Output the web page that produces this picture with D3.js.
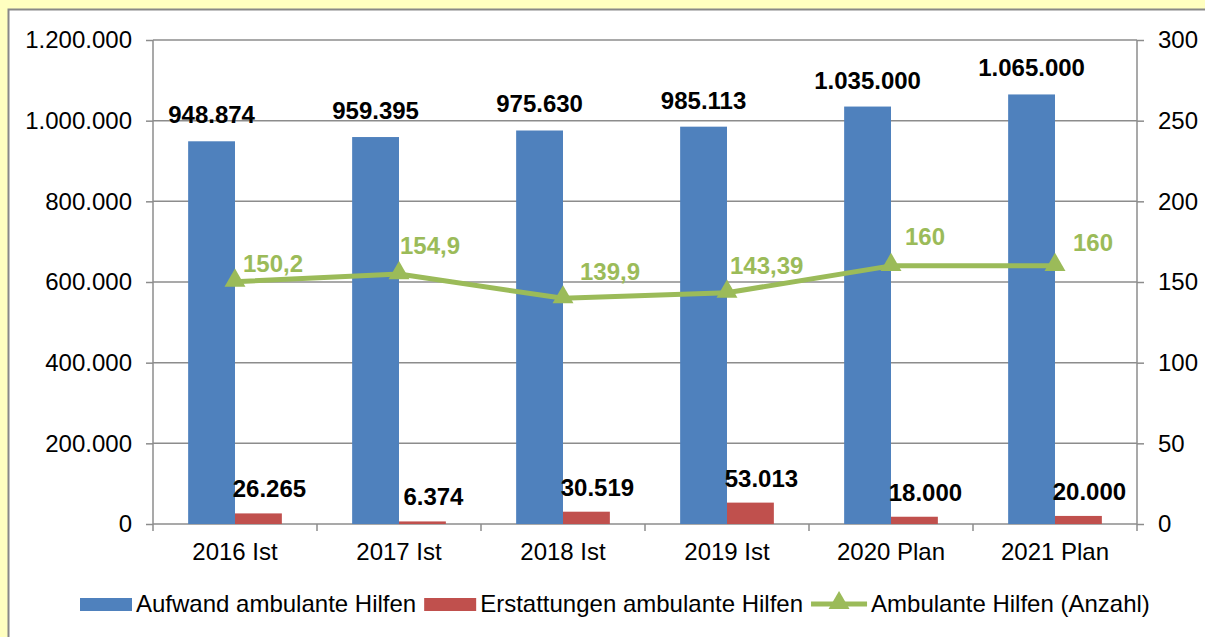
<!DOCTYPE html>
<html>
<head>
<meta charset="utf-8">
<script src="https://cdn.jsdelivr.net/npm/d3@7"></script>
<style>
  body { margin: 0; background: #FFFFC0; }
  svg { display: block; font-family: "Liberation Sans", Arial, sans-serif; }
</style>
</head>
<body>
<div id="chart"></div>
<script>
// Daten
const CATEGORIES = ["2016 Ist", "2017 Ist", "2018 Ist", "2019 Ist", "2020 Plan", "2021 Plan"];
const AUFWAND = [948874, 959395, 975630, 985113, 1035000, 1065000];
const ERSTATTUNGEN = [26265, 6374, 30519, 53013, 18000, 20000];
const ANZAHL = [150.2, 154.9, 139.9, 143.39, 160, 160];
const LEFT_TICKS = [0, 200000, 400000, 600000, 800000, 1000000, 1200000];
const RIGHT_TICKS = [0, 50, 100, 150, 200, 250, 300];
const SERIES_NAMES = ["Aufwand ambulante Hilfen", "Erstattungen ambulante Hilfen", "Ambulante Hilfen (Anzahl)"];

// layout
const WIDTH = 1205;
const HEIGHT = 637;
const PLOT = { left: 153, right: 1137, top: 40, bottom: 524 };
const COLORS = { blue: "#4F81BD", red: "#C0504D", green: "#9BBB59", grid: "#8C8C8C" };
const FONT = 24;
// label nudges for the green line labels (dx, dy from point)
const LINE_LABEL_NUDGE = [[8, -10], [1, -20], [17, -18], [3, -19], [14, -21], [18, -15]];

const deFormat = d3.formatLocale({ decimal: ",", thousands: ".", grouping: [3], currency: ["", "€"] }).format(",d");
const deDecimal = v => String(v).replace(".", ",");

const svg = d3.select("#chart").append("svg")
  .attr("width", WIDTH)
  .attr("height", HEIGHT);

// white chart box with gray border
svg.append("rect")
  .attr("x", 8.5).attr("y", 9.5)
  .attr("width", WIDTH + 20).attr("height", HEIGHT + 20)
  .attr("fill", "#fff")
  .attr("stroke", "#888")
  .attr("stroke-width", 2);

const x = d3.scaleBand().domain(CATEGORIES).range([PLOT.left, PLOT.right]);
const xInner = d3.scaleBand().domain(["a", "e"]).range([0, x.bandwidth()]).paddingInner(0).paddingOuter(0.75);
const yLeft = d3.scaleLinear().domain([0, 1200000]).range([PLOT.bottom, PLOT.top]);
const yRight = d3.scaleLinear().domain([0, 300]).range([PLOT.bottom, PLOT.top]);

// gridlines
svg.append("g").selectAll("line")
  .data(LEFT_TICKS.slice(1))
  .join("line")
  .attr("x1", PLOT.left).attr("x2", PLOT.right)
  .attr("y1", d => yLeft(d)).attr("y2", d => yLeft(d))
  .attr("stroke", COLORS.grid).attr("stroke-width", 1.5);

// left axis
const leftAxis = svg.append("g")
  .attr("transform", `translate(${PLOT.left},0)`)
  .call(d3.axisLeft(yLeft).tickValues(LEFT_TICKS).tickFormat(deFormat).tickSize(7).tickPadding(14));

// right axis
const rightAxis = svg.append("g")
  .attr("transform", `translate(${PLOT.right},0)`)
  .call(d3.axisRight(yRight).tickValues(RIGHT_TICKS).tickSize(7).tickPadding(14));

// bottom axis
const bottomAxis = svg.append("g")
  .attr("transform", `translate(0,${PLOT.bottom})`)
  .call(d3.axisBottom(x).tickSize(0).tickPadding(19));

// category boundary ticks
svg.append("g").selectAll("line")
  .data(d3.range(CATEGORIES.length + 1))
  .join("line")
  .attr("x1", i => PLOT.left + i * x.step())
  .attr("x2", i => PLOT.left + i * x.step())
  .attr("y1", PLOT.bottom).attr("y2", PLOT.bottom + 7)
  .attr("stroke", COLORS.grid).attr("stroke-width", 1.5);

[leftAxis, rightAxis, bottomAxis].forEach(a => {
  a.selectAll(".domain").attr("stroke", COLORS.grid).attr("stroke-width", 1.5);
  a.selectAll(".tick line").attr("stroke", COLORS.grid).attr("stroke-width", 1.5);
  a.selectAll("text").attr("font-size", FONT).attr("font-family", "Liberation Sans, Arial, sans-serif").attr("fill", "#000");
});
leftAxis.select(".domain").attr("d", `M0,${PLOT.bottom}V${PLOT.top}`);
rightAxis.select(".domain").attr("d", `M0,${PLOT.bottom}V${PLOT.top}`);
bottomAxis.select(".domain").attr("d", `M${PLOT.left},0H${PLOT.right}`);

// bars
const bars = svg.append("g");
bars.selectAll(".aufwand")
  .data(AUFWAND)
  .join("rect")
  .attr("class", "aufwand")
  .attr("x", (d, i) => x(CATEGORIES[i]) + xInner("a"))
  .attr("y", d => yLeft(d))
  .attr("width", xInner.bandwidth())
  .attr("height", d => PLOT.bottom - yLeft(d))
  .attr("fill", COLORS.blue);

bars.selectAll(".erst")
  .data(ERSTATTUNGEN)
  .join("rect")
  .attr("class", "erst")
  .attr("x", (d, i) => x(CATEGORIES[i]) + xInner("e"))
  .attr("y", d => yLeft(d))
  .attr("width", xInner.bandwidth())
  .attr("height", d => PLOT.bottom - yLeft(d))
  .attr("fill", COLORS.red);

// bar labels
svg.append("g").selectAll("text")
  .data(AUFWAND)
  .join("text")
  .attr("x", (d, i) => x(CATEGORIES[i]) + xInner("a") + xInner.bandwidth() / 2)
  .attr("y", d => yLeft(d) - 18)
  .attr("text-anchor", "middle")
  .attr("font-size", FONT).attr("font-weight", "bold")
  .text(d => deFormat(d));

svg.append("g").selectAll("text")
  .data(ERSTATTUNGEN)
  .join("text")
  .attr("x", (d, i) => x(CATEGORIES[i]) + xInner("e") + xInner.bandwidth() / 2 + 11)
  .attr("y", d => yLeft(d) - 16)
  .attr("text-anchor", "middle")
  .attr("font-size", FONT).attr("font-weight", "bold")
  .text(d => deFormat(d));

// green line
const lineX = (d, i) => x(CATEGORIES[i]) + x.bandwidth() / 2;
const line = d3.line().x(lineX).y(d => yRight(d));
svg.append("path")
  .datum(ANZAHL)
  .attr("d", line)
  .attr("fill", "none")
  .attr("stroke", COLORS.green)
  .attr("stroke-width", 5)
  .attr("stroke-linejoin", "round");

const tri = d3.symbol().type(d3.symbolTriangle).size(190);
svg.append("g").selectAll("path")
  .data(ANZAHL)
  .join("path")
  .attr("d", tri)
  .attr("transform", (d, i) => `translate(${lineX(d, i)},${yRight(d) - 1})`)
  .attr("fill", COLORS.green);

svg.append("g").selectAll("text")
  .data(ANZAHL)
  .join("text")
  .attr("x", (d, i) => lineX(d, i) + LINE_LABEL_NUDGE[i][0])
  .attr("y", (d, i) => yRight(d) + LINE_LABEL_NUDGE[i][1])
  .attr("font-size", FONT).attr("font-weight", "bold")
  .attr("fill", COLORS.green)
  .text(d => deDecimal(d));

// legend
const legend = svg.append("g").attr("transform", "translate(80,604)");
let lx = 0;
SERIES_NAMES.forEach((name, i) => {
  const sw = i < 2 ? 52 : 56;
  if (i < 2) {
    legend.append("rect")
      .attr("x", lx).attr("y", -6)
      .attr("width", sw).attr("height", 13)
      .attr("fill", i === 0 ? COLORS.blue : COLORS.red);
  } else {
    legend.append("line")
      .attr("x1", lx).attr("x2", lx + sw)
      .attr("y1", 0).attr("y2", 0)
      .attr("stroke", COLORS.green).attr("stroke-width", 5);
    legend.append("path")
      .attr("d", tri)
      .attr("transform", `translate(${lx + sw / 2},-1)`)
      .attr("fill", COLORS.green);
  }
  const t = legend.append("text")
    .attr("x", lx + sw + 4).attr("y", 8)
    .attr("font-size", FONT)
    .text(name);
  lx += sw + 4 + t.node().getComputedTextLength() + 8;
});
</script>
</body>
</html>
